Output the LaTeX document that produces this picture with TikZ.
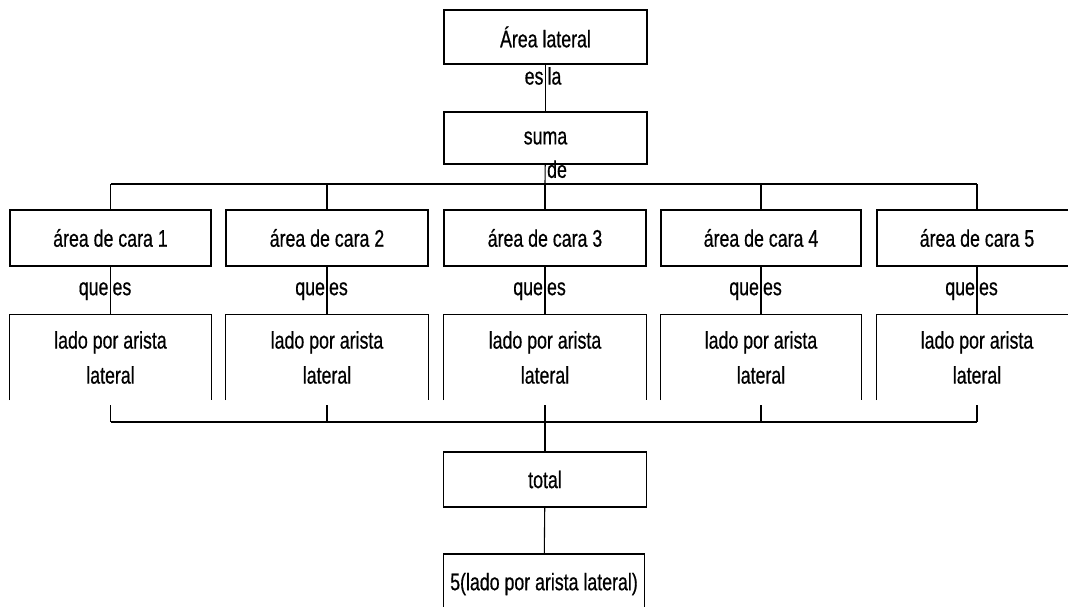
\documentclass[tikz,border=0pt]{standalone}
\usepackage{fontspec}
\setmainfont{Liberation Sans}[FakeStretch=0.74,FakeBold=0.6]
\begin{document}
\begin{tikzpicture}[x=1pt,y=-1pt,
  every node/.style={font=\fontsize{24}{28}\selectfont},
  ln/.style={line width=1.1pt, black},
  boxa/.style={draw, ln, inner sep=0pt, align=center, minimum height=54pt, minimum width=203pt},
  cara/.style={draw, ln, inner sep=0pt, minimum height=56pt},
  lado/.style={inner sep=0pt, align=center, minimum height=85pt, font=\fontsize{24}{35}\selectfont},
  lbl/.style={inner sep=1.5pt, text height=13pt, text depth=4pt}]
\useasboundingbox (0,0) rectangle (1068,606);
\node[boxa] (area) at (545.5,37) {Área lateral};
\node[boxa, minimum height=52pt] (suma) at (545.5,138) {suma};
\draw[ln] (area) -- (suma) node[pos=0.33, left, lbl]{es} node[pos=0.33, right, lbl]{la};
\coordinate (bus) at (545,184);
\draw[ln] (suma) -- (bus) node[pos=0.45, right, lbl]{de};
\foreach \i/\x/\w in {1/110.5/201, 2/327/202, 3/545/202, 4/761/200, 5/977/200} {
  \node[cara, minimum width=\w pt] (c\i) at (\x,238) {área de cara \i};
  \node[lado, minimum width=\w pt] (l\i) at (\x,357.5) {lado por arista\\lateral};
  \draw[ln] (l\i.south west) -- (l\i.north west) -- (l\i.north east) -- (l\i.south east);
  \draw[ln] (c\i) -- (l\i) node[midway, left, lbl]{que} node[midway, right, lbl]{es};
  \draw[ln] (c\i.north |- bus) -- (c\i.north);
}
\draw[ln] (c1.north |- bus) -- (c5.north |- bus);
\coordinate (bot) at (545,422);
\foreach \i in {1,...,5} {
  \draw[ln] ([yshift=-5pt]l\i.south) -- (l\i.south |- bot);
}
\draw[ln] (l1.south |- bot) -- (l5.south |- bot);
\node[boxa, minimum height=55pt] (total) at (545,479.5) {total};
\node[boxa, minimum width=201pt, minimum height=60pt] (final) at (544,584) {5(lado por arista lateral)};
\draw[ln] (bot) -- (total);
\draw[ln] (total) -- (final);
\end{tikzpicture}
\end{document}
